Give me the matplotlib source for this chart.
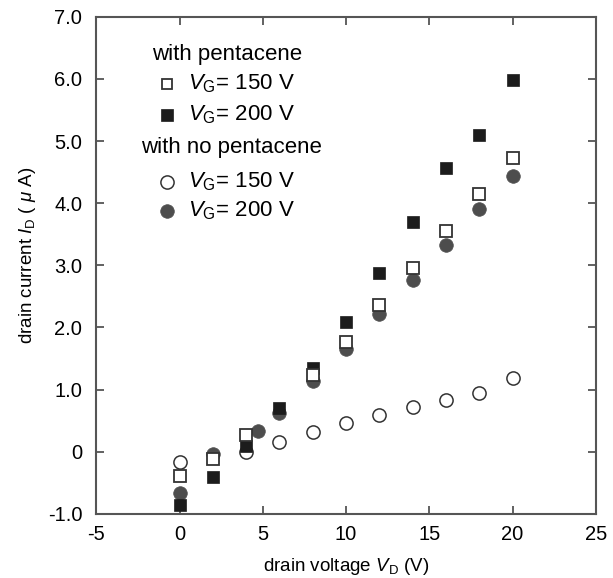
import numpy as np
import matplotlib
matplotlib.use('Agg')
import matplotlib.pyplot as plt

plt.rcParams['font.family'] = ['Liberation Sans', 'DejaVu Sans']
plt.rcParams['mathtext.fontset'] = 'custom'
plt.rcParams['mathtext.rm'] = 'Liberation Sans'
plt.rcParams['mathtext.it'] = 'Liberation Sans:italic'
plt.rcParams['axes.unicode_minus'] = False

# with pentacene
vd_p150 = [0, 2, 4, 8, 10, 12, 14, 16, 18, 20]
id_p150 = [-0.39, -0.12, 0.27, 1.24, 1.77, 2.36, 2.96, 3.55, 4.15, 4.73]
vd_p200 = [0, 2, 4, 6, 8, 10, 12, 14, 16, 18, 20]
id_p200 = [-0.86, -0.41, 0.09, 0.71, 1.35, 2.09, 2.87, 3.69, 4.56, 5.10, 5.98]
# with no pentacene
vd_n150 = [0, 4, 6, 8, 10, 12, 14, 16, 18, 20]
id_n150 = [-0.16, 0.0, 0.16, 0.32, 0.47, 0.59, 0.72, 0.84, 0.95, 1.18]
vd_n200 = [0, 2, 4.7, 6, 8, 10, 12, 14, 16, 18, 20]
id_n200 = [-0.66, -0.03, 0.33, 0.63, 1.14, 1.66, 2.21, 2.77, 3.33, 3.90, 4.44]

xticks = [-5, 0, 5, 10, 15, 20, 25]
yticks = [-1, 0, 1, 2, 3, 4, 5, 6, 7]
ylabels = ['-1.0', '0', '1.0', '2.0', '3.0', '4.0', '5.0', '6.0', '7.0']

fig = plt.figure(figsize=(6.13, 5.78), dpi=100)
ax = fig.add_axes([0.157, 0.111, 0.815, 0.860])

edge = '#333333'
sty_p150 = dict(marker='s', ms=8, mfc='white', mec=edge, mew=1.3, ls='none')
sty_p200 = dict(marker='s', ms=8.5, mfc='#1c1c1c', mec='#1c1c1c', mew=0.5, ls='none')
sty_n150 = dict(marker='o', ms=9.5, mfc='white', mec=edge, mew=1.1, ls='none')
sty_n200 = dict(marker='o', ms=9.8, mfc='#4d4d4d', mec='#4d4d4d', mew=0.5, ls='none')

ax.plot(vd_n150, id_n150, **sty_n150)
ax.plot(vd_n200, id_n200, **sty_n200)
ax.plot(vd_p200, id_p200, **sty_p200)
ax.plot(vd_p150, id_p150, **sty_p150)

ax.set_xlim(-5, 25)
ax.set_ylim(-1, 7)
ax.set_xticks(xticks)
ax.set_yticks(yticks)
ax.set_yticklabels(ylabels)
ax.tick_params(direction='in', length=6, width=1.3, color='#555555',
               top=True, right=True, labelsize=14.5)
ax.tick_params(axis='x', pad=8)
ax.tick_params(axis='y', pad=10)
for s in ax.spines.values():
    s.set_color('#555555')
    s.set_linewidth(1.5)

ax.set_xlabel(r'drain voltage $V_\mathrm{D}$ (V)', fontsize=13.5, labelpad=9)
ax.set_ylabel(r'drain current $I_\mathrm{D}$ ( $\mu$ A)', fontsize=13.5)
ax.yaxis.set_label_coords(-0.116, 0.521)

# legend, drawn by hand in axes coordinates
mx, tx = 0.142, 0.184
rows = [
    ('with pentacene', None, 0.925, 0.262),
    (r'$V_\mathrm{G}$= 150 V', sty_p150, 0.865, None),
    (r'$V_\mathrm{G}$= 200 V', sty_p200, 0.803, None),
    ('with no pentacene', None, 0.736, 0.27),
    (r'$V_\mathrm{G}$= 150 V', sty_n150, 0.668, None),
    (r'$V_\mathrm{G}$= 200 V', sty_n200, 0.610, None),
]
for label, sty, yy, cx in rows:
    if sty is None:
        ax.text(cx, yy, label, transform=ax.transAxes, fontsize=16,
                ha='center', va='center')
    else:
        s = dict(sty)
        if s['marker'] == 's':
            s['ms'] = s['ms'] - 0.5
        ax.plot([mx], [yy], transform=ax.transAxes, clip_on=False, **s)
        ax.text(tx, yy, label, transform=ax.transAxes, fontsize=16,
                ha='left', va='center')

fig.savefig('out.png', dpi=100)
